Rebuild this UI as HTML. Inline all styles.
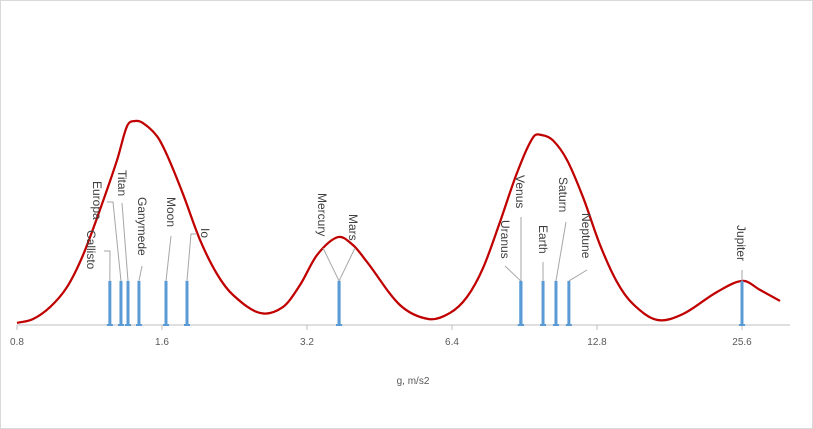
<!DOCTYPE html>
<html><head><meta charset="utf-8"><style>
html,body{margin:0;padding:0;background:#fff;}
svg{display:block;font-family:"Liberation Sans",sans-serif;}
</style></head><body>
<svg id="chart" width="813" height="429" viewBox="0 0 813 429" xmlns="http://www.w3.org/2000/svg">
<rect x="0.5" y="0.5" width="812" height="428" fill="#fff" stroke="#d9d9d9"/>
<g id="marks"></g>
</svg>
<script>
// data
const bodyNames = ["Callisto","Europa","Titan","Ganymede","Moon","Io","Mercury","Mars","Uranus","Venus","Earth","Saturn","Neptune","Jupiter"];
const bodyGravity = [1.247,1.315,1.36,1.433,1.631,1.803,3.73,3.73,8.89,8.90,9.89,10.52,11.19,25.6];
const curveG = [0.8,0.863,0.937,1.016,1.097,1.189,1.291,1.354,1.406,1.461,1.563,1.639,1.769,1.919,2.081,2.247,2.556,2.852,3.095,3.357,3.711,3.986,4.263,4.99,5.732,6.338,6.874,7.423,8.05,8.73,9.43,9.84,10.37,11.09,11.97,12.99,14.08,15.2,17.05,19.31,22.72,25.73,27.9,30.7];
const curveDensity = [0.010,0.029,0.088,0.186,0.343,0.564,0.809,0.975,1.0,0.990,0.925,0.833,0.642,0.417,0.25,0.147,0.059,0.088,0.196,0.343,0.431,0.392,0.309,0.098,0.029,0.059,0.137,0.279,0.505,0.745,0.92,0.931,0.905,0.809,0.627,0.392,0.211,0.103,0.025,0.054,0.162,0.216,0.172,0.118];
const tickValues = [0.8,1.6,3.2,6.4,12.8,25.6];
const tickLabels = ["0.8","1.6","3.2","6.4","12.8","25.6"];
const barHeight = 0.216;
// label layout (pixel positions, not data): [baselineX, topY, leaderX1, leaderY1, bendX, bendY]
const labelLayout = {
 Callisto:[87,230,104,251,110,251], Europa:[93,181,107,202,113,202], Titan:[118,170,122,203,122,203],
 Ganymede:[138,197,142,266,142,266], Moon:[167,197,171,236,171,236], Io:[201,228,197,234,191,234],
 Mercury:[318,193,323,248,323,248], Mars:[349,214,355,248,355,248], Uranus:[501,220,505,266,505,266],
 Venus:[516,175,521,217,521,217], Earth:[539,225,543,262,543,262], Saturn:[559,177,566,222,566,222],
 Neptune:[582,213,587,270,587,270], Jupiter:[737,225,742,270,742,270]
};
const X0=17, PX_PER_DOUBLING=145, Y0=325, YH=204;
const xs = g => X0 + PX_PER_DOUBLING*Math.log2(g/0.8);
const ys = d => Y0 - d*YH;
const NS="http://www.w3.org/2000/svg";
const g = document.getElementById('marks');
function mk(tag, attrs){const e=document.createElementNS(NS,tag);for(const k in attrs)e.setAttribute(k,attrs[k]);g.appendChild(e);return e;}

// axis
let ax = mk('line',{x1:X0,x2:790,y1:Y0,y2:Y0,stroke:'#bfbfbf','stroke-width':1});


tickValues.forEach((v,i)=>{
  const x=xs(v);
  const t=mk('line',{x1:x,x2:x,y1:Y0,y2:Y0+5,stroke:'#bfbfbf'});
  
  
  const l=mk('text',{x:x,y:Y0+20,'text-anchor':'middle','font-size':10,fill:'#595959'});
  l.textContent=tickLabels[i];
  
  
});
const at=mk('text',{x:413,y:384,'text-anchor':'middle','font-size':10,fill:'#595959'});
at.textContent='g, m/s2';



// curve (cubic Hermite with slope-based tangents for uneven spacing)
const pts=curveG.map((v,i)=>[xs(v),ys(curveDensity[i])]);
const n=pts.length;
const m=pts.map((p,i)=>{
  const a=pts[Math.max(0,i-1)], b=pts[Math.min(n-1,i+1)];
  return (b[1]-a[1])/(b[0]-a[0]);
});
let d='M'+pts[0][0]+','+pts[0][1];
for(let i=0;i<n-1;i++){
  const p1=pts[i],p2=pts[i+1],dx=(p2[0]-p1[0])/3;
  d+=' C'+(p1[0]+dx)+','+(p1[1]+m[i]*dx)+' '+(p2[0]-dx)+','+(p2[1]-m[i+1]*dx)+' '+p2[0]+','+p2[1];
}
const c=mk('path',{d:d,fill:'none',stroke:'#c00000','stroke-width':2.25});



// bars + labels
bodyNames.forEach((nm,i)=>{
  const x=xs(bodyGravity[i]), yt=ys(barHeight);
  const L=labelLayout[nm];
  const ld=mk('polyline',{points:L[2]+','+L[3]+' '+L[4]+','+L[5]+' '+x+','+yt,fill:'none',stroke:'#a6a6a6','stroke-width':1});
  
  
  const b=mk('line',{x1:x,x2:x,y1:yt,y2:Y0,stroke:'#5b9bd5','stroke-width':3});
  
  
  const cap=mk('line',{x1:x-3,x2:x+3,y1:Y0,y2:Y0,stroke:'#5b9bd5','stroke-width':2});
  
  
  const t=mk('text',{x:0,y:0,'font-size':12,fill:'#404040',transform:'translate('+L[0]+','+L[1]+') rotate(90)'});
  t.textContent=nm;
  
  
});
</script>
</body></html>
